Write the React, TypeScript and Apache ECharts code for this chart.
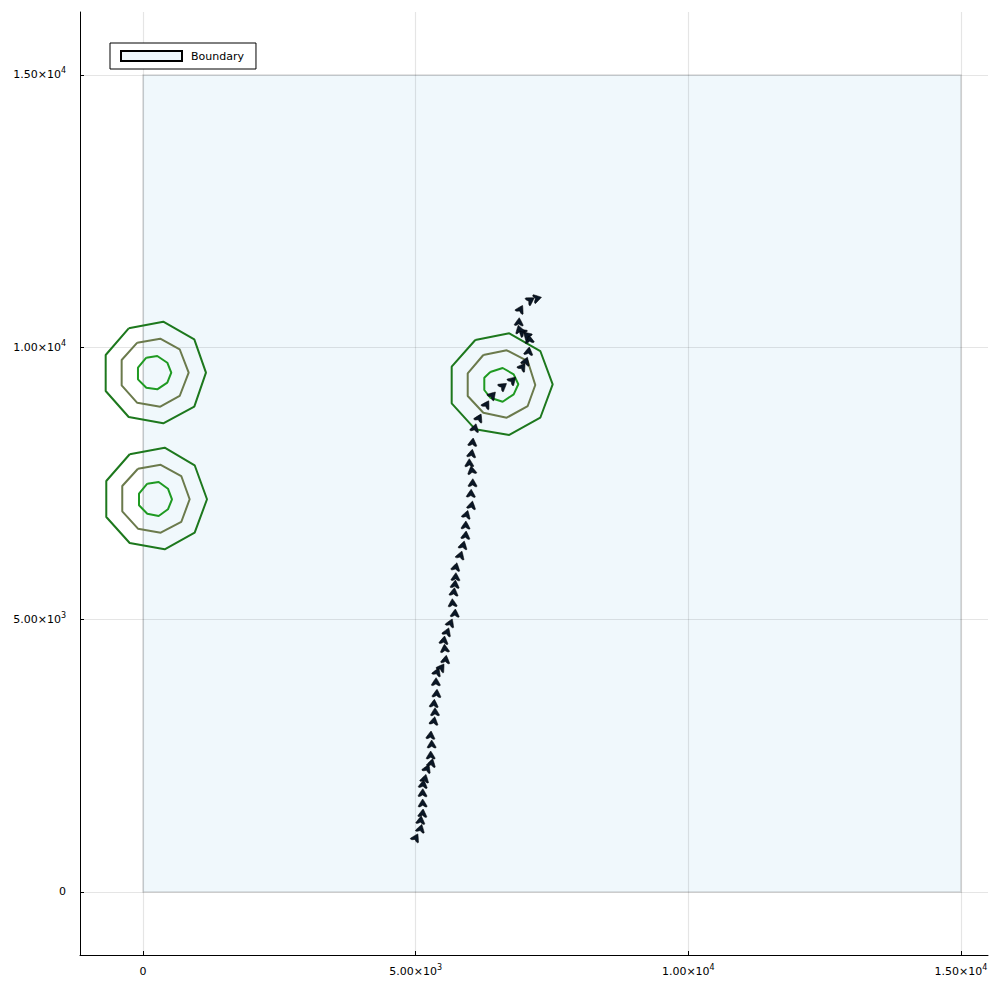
import React, { useEffect, useRef } from "react";
import * as echarts from "echarts";

// ---- axis ticks ----
const X_TICKS = [0, 5000, 10000, 15000];
const Y_TICKS = [0, 5000, 10000, 15000];

// ---- boundary polygon ----
const BOUNDARY_X = [0, 15000, 15000, 0];
const BOUNDARY_Y = [0, 0, 15000, 15000];

// ---- contour rings (upper-left source) ----
const A_OUTER = [[-262, 10348], [372, 10470], [941, 10147], [1155, 9534], [941, 8910], [372, 8605], [-262, 8720], [-684, 9198], [-684, 9859]];
const A_MID = [[-105, 10085], [317, 10158], [673, 9964], [838, 9534], [673, 9106], [317, 8910], [-105, 8981], [-391, 9300], [-391, 9767]];
const A_INNER = [[61, 9809], [262, 9840], [446, 9717], [519, 9534], [446, 9350], [262, 9229], [61, 9258], [-92, 9412], [-92, 9625]];
// ---- contour rings (lower-left source) ----
const B_OUTER = [[-244, 8036], [398, 8157], [948, 7834], [1174, 7210], [948, 6596], [398, 6292], [-244, 6407], [-673, 6885], [-673, 7545]];
const B_MID = [[-92, 7771], [325, 7843], [702, 7637], [856, 7210], [702, 6793], [325, 6596], [-92, 6670], [-380, 6989], [-380, 7454]];
const B_INNER = [[79, 7496], [288, 7527], [458, 7404], [532, 7210], [458, 7026], [288, 6903], [79, 6945], [-73, 7099], [-73, 7312]];
// ---- contour rings (right source) ----
const C_OUTER = [[6094, 10134], [6717, 10257], [7286, 9932], [7513, 9321], [7286, 8707], [6717, 8390], [6094, 8494], [5661, 8971], [5661, 9644]];
const C_MID = [[6241, 9859], [6670, 9945], [7055, 9748], [7194, 9308], [7055, 8922], [6670, 8707], [6241, 8799], [5955, 9106], [5955, 9523]];
const C_INNER = [[6369, 9547], [6596, 9620], [6798, 9504], [6883, 9321], [6798, 9137], [6596, 9001], [6369, 9074], [6259, 9216], [6259, 9442]];

// ---- trajectory ----
const TRAJ_X = [5006, 5093, 5093, 5129, 5129, 5129, 5140, 5171, 5214, 5294, 5276, 5294, 5276, 5337, 5355, 5337, 5386, 5373, 5397, 5478,
  5551, 5533, 5520, 5581, 5643, 5722, 5676, 5703, 5722, 5734, 5740, 5826, 5874, 5918, 5918, 5936, 6028, 6015, 6046, 6028,
  5984, 6028, 6046, 6088, 6167, 6303, 6413, 6607, 6780, 6963, 7024, 7073, 7084, 7034, 6945, 6901, 6895, 6926, 7110, 7236];
const TRAJ_Y = [1001, 1169, 1322, 1450, 1634, 1823, 1983, 2087, 2271, 2374, 2515, 2717, 2882, 3145, 3310, 3464, 3648, 3861, 4044, 4125,
  4272, 4474, 4626, 4779, 4944, 5122, 5311, 5513, 5654, 5789, 5972, 6187, 6371, 6554, 6738, 6934, 7105, 7320, 7514, 7747,
  7881, 8054, 8261, 8524, 8708, 8954, 9124, 9290, 9400, 9644, 9748, 9932, 10152, 10226, 10286, 10336, 10470, 10703, 10868, 10900];

const FONT = "DejaVu Sans";
const OUTER_COLOR = "#1d781d";
const MID_COLOR = "#6b7a4c";
const INNER_COLOR = "#1f9a22";

function rings(...rs: number[][][]) {
  const out: (number[] | null)[] = [];
  rs.forEach((r, i) => {
    if (i > 0) out.push(null);
    r.forEach((p) => out.push(p));
    out.push(r[0]);
  });
  return out;
}

function fmt(v: number) {
  if (v === 0) return "{m|0}";
  const e = Math.floor(Math.log10(Math.abs(v)) + 1e-9);
  const m = (v / Math.pow(10, e)).toFixed(2);
  return `{m|${m}×10}{e|${e}}`;
}

const rich = {
  m: { fontSize: 11, fontFamily: FONT, color: "#000", lineHeight: 16 },
  e: { fontSize: 8, fontFamily: FONT, color: "#000", lineHeight: 16, verticalAlign: "top" },
};

export default function App() {
  const ref = useRef<HTMLDivElement>(null);
  useEffect(() => {
    if (!ref.current) return;
    const chart = echarts.init(ref.current, null, { renderer: "svg" });

    const trajData = TRAJ_X.map((x, i) => {
      const a = Math.max(0, i - 1);
      const b = Math.min(TRAJ_X.length - 1, i + 1);
      const ang = (Math.atan2(TRAJ_Y[b] - TRAJ_Y[a], TRAJ_X[b] - TRAJ_X[a]) * 180) / Math.PI;
      return { value: [x, TRAJ_Y[i]], symbolRotate: ang - 90 };
    });

    const gridLine = { color: "rgba(0,0,0,0.1)", width: 1.2, type: "solid" as const };

    chart.setOption({
      animation: false,
      backgroundColor: "#fff",
      grid: { left: 80, right: 11, top: 12, bottom: 44, containLabel: false },
      legend: {
        left: 110,
        top: 43,
        orient: "vertical",
        backgroundColor: "#fff",
        borderColor: "#000",
        borderWidth: 1,
        borderRadius: 0,
        padding: [7, 12, 7, 10],
        itemWidth: 61,
        itemHeight: 10,
        textStyle: { fontSize: 11, fontFamily: FONT, color: "#000", padding: [0, 0, 0, 4] },
        data: [
          {
            name: "Boundary",
            icon: "rect",
            itemStyle: { color: "#eef7fb", borderColor: "#000", borderWidth: 2 },
          },
        ],
      },
      xAxis: {
        type: "value",
        min: -1155,
        max: 15496,
        axisLine: { show: true, onZero: false, lineStyle: { color: "#000", width: 1 } },
        axisTick: { show: true, inside: true, length: 4, customValues: X_TICKS, lineStyle: { color: "#000" } },
        axisLabel: { customValues: X_TICKS, formatter: fmt, rich, margin: 8 },
        splitLine: { show: false },
      },
      yAxis: {
        type: "value",
        min: -1157,
        max: 16156,
        axisLine: { show: true, onZero: false, lineStyle: { color: "#000", width: 1 } },
        axisTick: { show: true, inside: true, length: 4, customValues: Y_TICKS, lineStyle: { color: "#000" } },
        axisLabel: { customValues: Y_TICKS, formatter: fmt, rich, margin: 14 },
        splitLine: { show: false },
      },
      series: [
        {
          name: "Boundary",
          type: "custom",
          z: 1,
          itemStyle: { color: "#eef7fb", borderColor: "#000", borderWidth: 2 },
          data: BOUNDARY_X.map((x, i) => [x, BOUNDARY_Y[i]]),
          renderItem: (params: any, api: any) => {
            if (params.dataIndex !== 0) return null;
            const pts = BOUNDARY_X.map((x, i) => api.coord([x, BOUNDARY_Y[i]]));
            return {
              type: "polygon",
              shape: { points: pts },
              style: { fill: "#f0f8fc", stroke: "rgba(0,0,0,0.14)", lineWidth: 1.5 },
            };
          },
          markLine: {
            silent: true,
            symbol: "none",
            label: { show: false },
            lineStyle: gridLine,
            z: 2,
            data: [
              ...X_TICKS.map((v) => ({ xAxis: v })),
              ...Y_TICKS.map((v) => ({ yAxis: v })),
            ],
          },
        },
        {
          name: "outer",
          type: "line",
          z: 3,
          data: rings(A_OUTER, B_OUTER, C_OUTER),
          connectNulls: false,
          showSymbol: false,
          symbol: "none",
          lineStyle: { color: OUTER_COLOR, width: 2 },
        },
        {
          name: "mid",
          type: "line",
          z: 3,
          data: rings(A_MID, B_MID, C_MID),
          connectNulls: false,
          showSymbol: false,
          symbol: "none",
          lineStyle: { color: MID_COLOR, width: 2 },
        },
        {
          name: "inner",
          type: "line",
          z: 3,
          data: rings(A_INNER, B_INNER, C_INNER),
          connectNulls: false,
          showSymbol: false,
          symbol: "none",
          lineStyle: { color: INNER_COLOR, width: 2 },
        },
        {
          name: "trajectory",
          type: "scatter",
          z: 4,
          symbol: "path://M0,-9 C2,-6 6,2 8,6 C8,8 6,8 4,7 L0,4 L-4,7 C-6,8 -8,8 -8,6 C-6,2 -2,-6 0,-9 Z",
          symbolSize: [9, 8],
          itemStyle: { color: "#0a1726", borderColor: "#000", borderWidth: 0.5, opacity: 1 },
          data: trajData,
        },
      ],
    });
    return () => chart.dispose();
  }, []);

  return (
    <div
      ref={ref}
      style={{ position: "fixed", left: 0, top: 0, width: 999, height: 999, background: "#fff" }}
    />
  );
}
